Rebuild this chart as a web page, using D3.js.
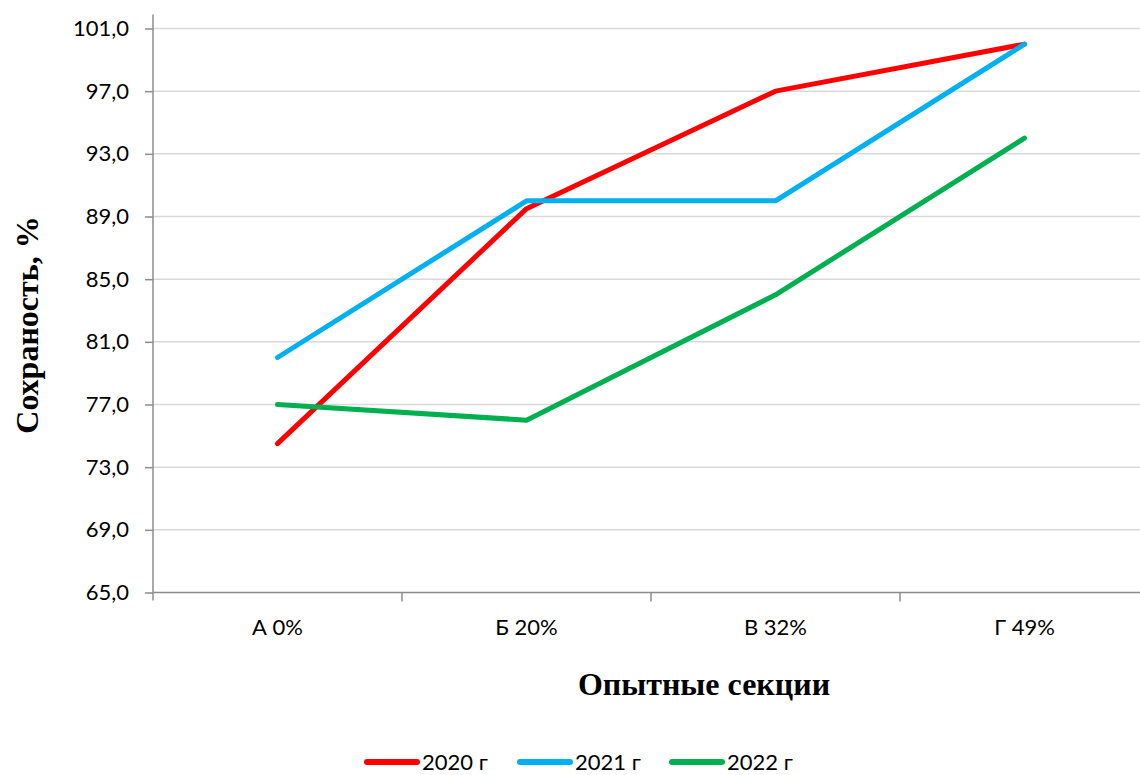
<!DOCTYPE html>
<html>
<head>
<meta charset="utf-8">
<script src="https://cdn.jsdelivr.net/npm/d3@7"></script>
<style>
  html, body { margin: 0; padding: 0; background: #fff; }
  svg { display: block; }
</style>
</head>
<body>
<svg id="chart" width="1140" height="775"></svg>
<script>
// Секции опыта и сохранность по годам, %
const categories = ["А 0%", "Б 20%", "В 32%", "Г 49%"];
const years = ["2020 г", "2021 г", "2022 г"];
const values2020 = [74.5, 89.5, 97.0, 100.0];
const values2021 = [80.0, 90.0, 90.0, 100.0];
const values2022 = [77.0, 76.0, 84.0, 94.0];
const yTicks = [65, 69, 73, 77, 81, 85, 89, 93, 97, 101];
const colors = ["#FF0000", "#00B0F0", "#00B050"];

const series = [values2020, values2021, values2022];

const svg = d3.select("#chart");
const plotLeft = 153, plotRight = 1149, plotTop = 28.5, plotBottom = 592.5;

const x = d3.scaleBand().domain(categories).range([plotLeft, plotRight]);
const y = d3.scaleLinear().domain([65, 101]).range([plotBottom, plotTop]);

const tickFont = "Lato, 'Open Sans', sans-serif";
const titleFont = "'Liberation Serif', 'Times New Roman', serif";

// Горизонтальная сетка
svg.append("g")
  .selectAll("line")
  .data(yTicks.slice(1))
  .join("line")
  .attr("x1", plotLeft).attr("x2", 1140)
  .attr("y1", d => y(d)).attr("y2", d => y(d))
  .attr("stroke", "#D9D9D9").attr("stroke-width", 1.5);

// Ось Y
const yAxis = svg.append("g")
  .attr("transform", `translate(${plotLeft},0)`)
  .call(d3.axisLeft(y).tickValues(yTicks).tickSize(8).tickPadding(16)
    .tickFormat(d => d3.format(".1f")(d).replace(".", ",")));
yAxis.select(".domain").attr("stroke", "#8C8C8C").attr("stroke-width", 1.5)
  .attr("d", `M0,${plotTop - 14}V${plotBottom + 8}`);
yAxis.selectAll(".tick line").attr("stroke", "#8C8C8C").attr("stroke-width", 1.5);
yAxis.selectAll(".tick text").attr("font-family", tickFont).attr("font-size", 22).attr("fill", "#000");

// Ось X
const xAxis = svg.append("g")
  .attr("transform", `translate(0,${plotBottom})`)
  .call(d3.axisBottom(x).tickSize(0).tickPadding(27));
xAxis.select(".domain").attr("stroke", "#8C8C8C").attr("stroke-width", 1.5)
  .attr("d", `M${plotLeft},0H1140`);
xAxis.selectAll(".tick text").attr("font-family", tickFont).attr("font-size", 22).attr("fill", "#000");
xAxis.append("g")
  .selectAll("line")
  .data(categories.slice(1))
  .join("line")
  .attr("x1", d => x(d)).attr("x2", d => x(d))
  .attr("y1", 0).attr("y2", 9)
  .attr("stroke", "#8C8C8C").attr("stroke-width", 1.5);

// Линии рядов
const line = d3.line()
  .x((d, i) => x(categories[i]) + x.bandwidth() / 2)
  .y(d => y(d));

svg.append("g")
  .selectAll("path")
  .data(series)
  .join("path")
  .attr("d", d => line(d))
  .attr("fill", "none")
  .attr("stroke", (d, i) => colors[i])
  .attr("stroke-width", 5)
  .attr("stroke-linecap", "round")
  .attr("stroke-linejoin", "round");

// Подписи осей
svg.append("text")
  .attr("transform", "translate(38,325) rotate(-90)")
  .attr("text-anchor", "middle")
  .attr("font-family", titleFont).attr("font-weight", "bold").attr("font-size", 32)
  .text("Сохраность, %");

svg.append("text")
  .attr("x", 704).attr("y", 695)
  .attr("text-anchor", "middle")
  .attr("font-family", titleFont).attr("font-weight", "bold").attr("font-size", 32)
  .text("Опытные секции");

// Легенда
const legendX = [367, 520, 672];
const legend = svg.append("g")
  .selectAll("g")
  .data(years)
  .join("g")
  .attr("transform", (d, i) => `translate(${legendX[i]},762)`);
legend.append("line")
  .attr("x1", 0).attr("x2", 50).attr("y1", 0).attr("y2", 0)
  .attr("stroke", (d, i) => colors[i]).attr("stroke-width", 6)
  .attr("stroke-linecap", "round");
legend.append("text")
  .attr("x", 55).attr("y", 8)
  .attr("font-family", tickFont).attr("font-size", 22)
  .text(d => d);
</script>
</body>
</html>
